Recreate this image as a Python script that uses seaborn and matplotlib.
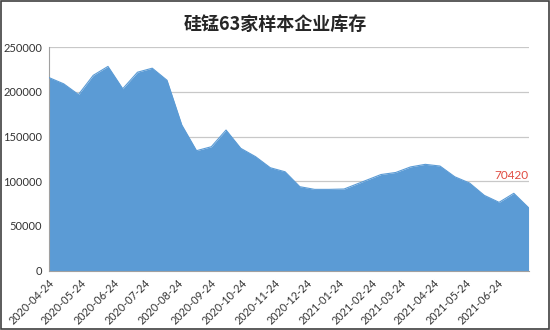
import numpy as np
import pandas as pd
import matplotlib
matplotlib.use("Agg")
import matplotlib.pyplot as plt
import matplotlib.dates as mdates
from matplotlib.patches import Rectangle
import seaborn as sns

dates = ["2020-04-24", "2020-05-08", "2020-05-22", "2020-06-05", "2020-06-19",
         "2020-07-03", "2020-07-17", "2020-07-31", "2020-08-14", "2020-08-28",
         "2020-09-11", "2020-09-25", "2020-10-09", "2020-10-23", "2020-11-06",
         "2020-11-20", "2020-12-04", "2020-12-18", "2021-01-01", "2021-01-15",
         "2021-01-29", "2021-03-05", "2021-03-19", "2021-04-02", "2021-04-16",
         "2021-04-30", "2021-05-14", "2021-05-28", "2021-06-11", "2021-06-25",
         "2021-07-09", "2021-07-23"]
inventory = [216000, 209000, 197000, 218500, 228500,
             203500, 222000, 226500, 213000, 163000,
             134200, 138600, 157300, 136800, 127500,
             115100, 110600, 93900, 90900, 90900,
             91300, 107500, 109800, 116000, 118900,
             117000, 105000, 98000, 84200, 76400,
             86500, 70420]
tick_labels = ["2020-04-24", "2020-05-24", "2020-06-24", "2020-07-24", "2020-08-24",
               "2020-09-24", "2020-10-24", "2020-11-24", "2020-12-24", "2021-01-24",
               "2021-02-24", "2021-03-24", "2021-04-24", "2021-05-24", "2021-06-24"]
y_ticks = [0, 50000, 100000, 150000, 200000, 250000]
title = "硅锰63家样本企业库存"

sns.set_style("white")
plt.rcParams["font.family"] = ["Lato", "Noto Sans CJK SC", "DejaVu Sans"]

df = pd.DataFrame({"date": pd.to_datetime(dates), "value": inventory})
color = "#5B9BD5"

fig = plt.figure(figsize=(5.5, 3.3), dpi=100)
ax = fig.add_axes([0.089, 0.18, 0.872, 0.677])

ax.fill_between(df["date"], 0, df["value"], color=color, linewidth=0, zorder=2)
sns.lineplot(data=df, x="date", y="value", ax=ax, color=color, linewidth=0.8, zorder=3)

ax.set_xlim(df["date"].iloc[0], df["date"].iloc[-1])
ax.set_ylim(0, 250000)
ax.set_yticks(y_ticks)
ax.set_yticklabels([str(v) for v in y_ticks], fontsize=8, color="#333333")
ax.set_xticks(pd.to_datetime(tick_labels))
ax.set_xticklabels(tick_labels, rotation=45, ha="right", rotation_mode="anchor",
                   fontsize=7.8, color="#333333")
ax.set_xlabel("")
ax.set_ylabel("")

ax.grid(axis="y", color="#C8C8C8", linewidth=0.9, zorder=0)
ax.grid(axis="x", visible=False)
for s in ["top", "right"]:
    ax.spines[s].set_visible(False)
ax.spines["left"].set_color("#A0A0A0")
ax.spines["bottom"].set_color("#A0A0A0")
ax.tick_params(axis="x", length=3, color="#A0A0A0", pad=2)
ax.tick_params(axis="y", length=3, color="#A0A0A0", pad=2)
ax.set_axisbelow(True)

ax.annotate(f"{inventory[-1]}", xy=(df["date"].iloc[-1], inventory[-1]),
            xytext=(0, 23), textcoords="offset points", ha="right", va="center",
            fontsize=8.5, color="#E04A3F")

fig.text(0.5, 0.925, title, ha="center", va="center", fontsize=13, fontweight="bold",
         family=["Noto Sans CJK SC", "DejaVu Sans"])

fig.patches.append(Rectangle((0.001, 0.002), 0.997, 0.995, transform=fig.transFigure,
                             fill=False, edgecolor="#404040", linewidth=1.2))

fig.savefig("out.png", dpi=100)
